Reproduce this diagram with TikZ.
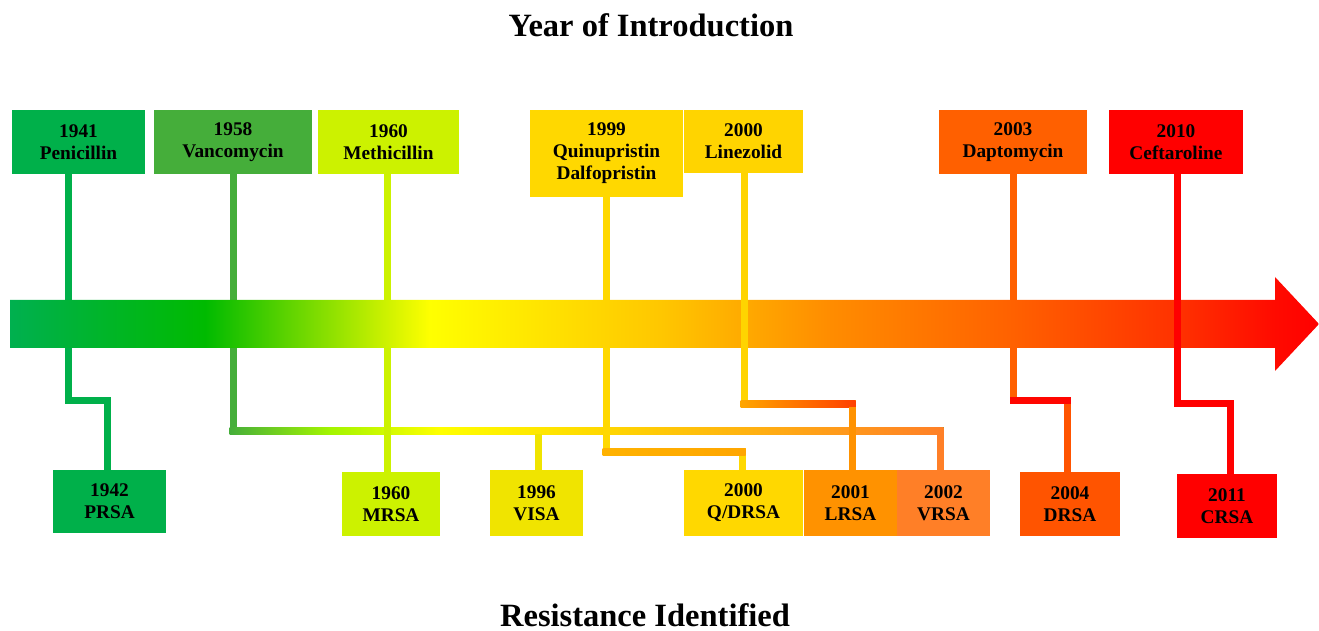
\documentclass[tikz,border=0pt]{standalone}
\usepackage{fontspec}
\setmainfont{Liberation Serif}
\definecolor{cPen}{HTML}{00B04A}
\definecolor{cVan}{HTML}{45AE3A}
\definecolor{cMet}{HTML}{CCF200}
\definecolor{cVisa}{HTML}{F0E400}
\definecolor{cQd}{HTML}{FFD800}
\definecolor{cLin}{HTML}{FFD400}
\definecolor{cLrsa}{HTML}{FF9200}
\definecolor{cVrsa}{HTML}{FF7F27}
\definecolor{cDap}{HTML}{FF6000}
\definecolor{cDrsa}{HTML}{FF5400}
\definecolor{cCef}{HTML}{FF0000}
\pgfdeclarehorizontalshading{timebar}{100bp}{%
  rgb(0bp)=(0,0.69,0.31); rgb(25bp)=(0,0.69,0.31);
  rgb(32.45bp)=(0,0.73,0); rgb(41.04bp)=(1,1,0);
  rgb(49.83bp)=(1,0.78,0); rgb(56.32bp)=(1,0.55,0);
  rgb(63.31bp)=(1,0.38,0); rgb(69.69bp)=(1,0.19,0);
  rgb(73.32bp)=(1,0.04,0); rgb(75bp)=(1,0,0); rgb(100bp)=(1,0,0)}
\begin{document}
\begin{tikzpicture}[x=0.02cm, y=-0.02cm,
  box/.style={rectangle, fill=#1, inner sep=0pt, align=center,
    font=\fontsize{11}{12.5}\selectfont\bfseries},
  wire/.style={draw=#1, line width=0.14cm},
  title/.style={font=\fontsize{18.5}{20}\selectfont\bfseries}]
  \useasboundingbox (0,0) rectangle (1319,631);

  % headings
  \node[title] (top) at (651,25) {Year of Introduction};
  \node[title, anchor=base] (bottom) at (645,626) {Resistance Identified};

  % year of introduction
  \node[box=cPen, minimum width=2.66cm, minimum height=1.28cm] (pen) at (78.5,142) {1941\\Penicillin};
  \node[box=cVan, minimum width=3.16cm, minimum height=1.28cm] (van) at (233,142) {1958\\Vancomycin};
  \node[box=cMet, minimum width=2.82cm, minimum height=1.28cm] (met) at (388.5,142) {1960\\Methicillin};
  \node[box=cQd, minimum width=3.06cm, minimum height=1.74cm] (qd) at (606.5,153.5) {1999\\Quinupristin\\Dalfopristin};
  \node[box=cLin, minimum width=2.38cm, minimum height=1.26cm] (lin) at (743.5,141.5) {2000\\Linezolid};
  \node[box=cDap, minimum width=2.96cm, minimum height=1.28cm] (dap) at (1013,142) {2003\\Daptomycin};
  \node[box=cCef, minimum width=2.68cm, minimum height=1.28cm] (cef) at (1176,142) {2010\\Ceftaroline};

  % resistance identified
  \node[box=cPen, minimum width=2.26cm, minimum height=1.26cm] (prsa) at (109.5,501.5) {1942\\PRSA};
  \node[box=cMet, minimum width=1.96cm, minimum height=1.28cm] (mrsa) at (391,504) {1960\\MRSA};
  \node[box=cVisa, minimum width=1.86cm, minimum height=1.32cm] (visa) at (536.5,503) {1996\\VISA};
  \node[box=cQd, minimum width=2.38cm, minimum height=1.32cm] (qdrsa) at (743.5,503) {2000\\Q/DRSA};
  \node[box=cLrsa, minimum width=1.86cm, minimum height=1.32cm] (lrsa) at (850.5,503) {2001\\LRSA};
  \node[box=cVrsa, minimum width=1.86cm, minimum height=1.32cm] (vrsa) at (943.5,503) {2002\\VRSA};
  \node[box=cDrsa, minimum width=2cm, minimum height=1.28cm] (drsa) at (1070,504) {2004\\DRSA};
  \node[box=cCef, minimum width=2cm, minimum height=1.28cm] (crsa) at (1227,506) {2011\\CRSA};

  % connectors behind the time bar
  \draw[wire=cPen] (68,0 |- pen.south) |- (107,401) -- (107,0 |- prsa.north);
  \draw[wire=cVan] (233,0 |- van.south) |- (940,431) -- (940,0 |- vrsa.north);
  \shade[left color=cVan, right color=cMet!80!green] (229.5,427.5) rectangle (330,434.5);
  \shade[left color=cMet!80!green, right color=yellow] (330,427.5) rectangle (440,434.5);
  \shade[left color=yellow, right color=cQd] (440,427.5) rectangle (600,434.5);
  \shade[left color=cQd, right color=cVrsa] (600,427.5) rectangle (943.5,434.5);
  \draw[wire=cVrsa] (940,434.5) -- (940,0 |- vrsa.north);
  \draw[wire=cMet] (387,0 |- met.south) -- (387,0 |- mrsa.north);
  \draw[wire=cVisa] (538,434.5) -- (538,0 |- visa.north);
  \draw[wire=cQd] (606,0 |- qd.south) |- (742,452) -- (742,0 |- qdrsa.north);
  \shade[left color=orange!60!yellow, right color=orange!70!yellow] (602.5,448.5) rectangle (745.5,455.5);
  \draw[wire=cDap] (1013,0 |- dap.south) |- (1067,401) -- (1067,0 |- drsa.north);
  \fill[red!95!orange] (1009.5,397.5) rectangle (1070.5,404.5);
  \draw[wire=cDrsa] (1067,404.5) -- (1067,0 |- drsa.north);

  % time bar
  \shade[shading=timebar] (10,300) -- (1275,300) -- (1275,277) -- (1319,324)
    -- (1275,371) -- (1275,348) -- (10,348) -- cycle;

  % connectors over the time bar
  \draw[wire=cLin] (744,0 |- lin.south) |- (852,404) -- (852,0 |- lrsa.north);
  \shade[left color=orange!70!yellow, right color=red!50!orange] (740.5,400.5) rectangle (855.5,407.5);
  \draw[wire=cLrsa] (852,407.5) -- (852,0 |- lrsa.north);
  \draw[wire=cCef] (1177,0 |- cef.south) |- (1230,404) -- (1230,0 |- crsa.north);
\end{tikzpicture}
\end{document}
